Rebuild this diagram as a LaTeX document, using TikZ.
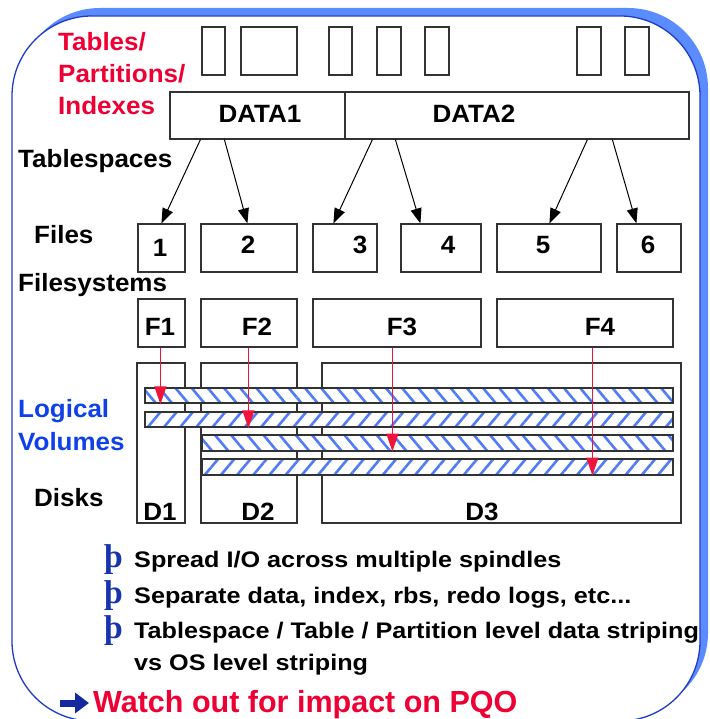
\documentclass[tikz,border=0pt]{standalone}
\usepackage{fontspec}
\setmainfont{Liberation Sans}
\newfontfamily\labf[FakeStretch=1.04]{Liberation Sans}
\newfontfamily\bulf[FakeStretch=1.12]{Liberation Sans}
\newfontfamily\plainf{Liberation Sans}
\newfontfamily\thornf{Liberation Serif}
\usetikzlibrary{arrows.meta,patterns.meta,fit}
\definecolor{labred}{RGB}{238,0,52}
\definecolor{labblue}{RGB}{16,64,232}
\definecolor{bulblue}{RGB}{24,52,172}
\definecolor{arrblue}{RGB}{20,40,160}
\definecolor{boxgray}{RGB}{50,50,50}
\definecolor{stripeblue}{RGB}{80,125,245}
\definecolor{redarrow}{RGB}{240,20,60}
\definecolor{framedark}{RGB}{30,60,200}
\definecolor{shadowblue}{RGB}{90,140,255}
\tikzset{
  box/.style={draw=boxgray, line width=1.2pt, inner sep=0pt},
  lab/.style={font=\labf\bfseries\fontsize{25pt}{30pt}\selectfont, inner sep=0pt, anchor=base west},
  inlab/.style={font=\labf\bfseries\fontsize{25pt}{30pt}\selectfont, inner sep=0pt, anchor=base},
  bul/.style={font=\bulf\bfseries\fontsize{22.5pt}{27pt}\selectfont, inner sep=0pt, anchor=base west},
  thorn/.style={font=\thornf\bfseries\fontsize{33pt}{36pt}\selectfont, text=bulblue, inner sep=0pt, anchor=base west},
  lvbarA/.style={draw=boxgray, line width=1.2pt, inner sep=0pt, preaction={fill=white},
    pattern={Lines[angle=-50,distance=12.4pt,line width=2.6pt]}, pattern color=stripeblue},
  lvbarB/.style={draw=boxgray, line width=1.2pt, inner sep=0pt, preaction={fill=white},
    pattern={Lines[angle=50,distance=12.4pt,line width=2.6pt]}, pattern color=stripeblue},
  blkarr/.style={-{Triangle[length=15pt,width=11pt]}, line width=1pt, black},
  redarr/.style={-{Triangle[length=18pt,width=12pt]}, line width=1.3pt, redarrow},
  bigarr/.style={-{Triangle[length=14pt,width=20pt]}, line width=7pt, arrblue, shorten >=4pt},
}
\begin{document}
\begin{tikzpicture}[x=1pt,y=-1pt]
\useasboundingbox (0,0) rectangle (709,719);
% frame
\fill[shadowblue, rounded corners=80pt] (20,8) rectangle (708,713);
\draw[framedark, fill=white, line width=1.3pt, rounded corners=80pt] (12,16) rectangle (700,721);
% left labels
\node[lab, text=labred] (lTables) at (58,51) {Tables/};
\node[lab, text=labred] (lPart) at (58,83) {Partitions/};
\node[lab, text=labred] (lIdx) at (58,115) {Indexes};
\node[lab] (lTs) at (18,168) {Tablespaces};
\node[lab] (lFiles) at (34,243) {Files};
\node[lab] (lFs) at (18,291) {Filesystems};
\node[lab, text=labblue] (lLog) at (18,417) {Logical};
\node[lab, text=labblue] (lVol) at (18,450) {Volumes};
\node[lab] (lDisks) at (34,506) {Disks};
% tables / partitions
\node[box, fit={(202,27)(225,75)}] (t1) {};
\node[box, fit={(241,27)(297,75)}] (t2) {};
\node[box, fit={(329,27)(352,75)}] (t3) {};
\node[box, fit={(377,27)(401,75)}] (t4) {};
\node[box, fit={(425,27)(449,75)}] (t5) {};
\node[box, fit={(577,27)(601,75)}] (t6) {};
\node[box, fit={(625,27)(649,75)}] (t7) {};
% tablespaces
\node[box, fit={(170,92)(345,139)}] (data1) {};
\node[box, fit={(345,92)(689,139)}] (data2) {};
\node[inlab] at (260,123) {DATA1};
\node[inlab] at (474,123) {DATA2};
% files
\node[box, fit={(138,224)(185,272)}] (f1) {};
\node[box, fit={(201,224)(297,272)}] (f2) {};
\node[box, fit={(313,224)(377,272)}] (f3) {};
\node[box, fit={(401,224)(481,272)}] (f4) {};
\node[box, fit={(497,224)(601,272)}] (f5) {};
\node[box, fit={(617,224)(681,272)}] (f6) {};
\node[inlab] at (160,256) {1};
\node[inlab] at (248,253) {2};
\node[inlab] at (360,253) {3};
\node[inlab] at (448,253) {4};
\node[inlab] at (543,253) {5};
\node[inlab] at (648,253) {6};
% filesystems
\node[box, fit={(138,299)(185,347)}] (fs1) {};
\node[box, fit={(201,299)(297,347)}] (fs2) {};
\node[box, fit={(313,299)(481,347)}] (fs3) {};
\node[box, fit={(497,299)(673,347)}] (fs4) {};
\node[inlab] at (160,335) {F1};
\node[inlab] at (257,335) {F2};
\node[inlab] at (402,335) {F3};
\node[inlab] at (600,335) {F4};
% disks
\node[box, fit={(137,363)(185,523)}] (d1) {};
\node[box, fit={(201,363)(297,523)}] (d2) {};
\node[box, fit={(322,363)(681,523)}] (d3) {};
\node[inlab] at (160,520) {D1};
\node[inlab] at (258,520) {D2};
\node[inlab] at (482,520) {D3};
% logical volumes
\node[lvbarA, fit={(145,388)(673,403)}] (lv1) {};
\node[lvbarB, fit={(145,412)(673,427)}] (lv2) {};
\node[lvbarA, fit={(202,435)(673,451)}] (lv3) {};
\node[lvbarB, fit={(202,459)(673,475)}] (lv4) {};
% black arrows tablespace -> files
\draw[blkarr] ([xshift=31pt]data1.south west) -- ([xshift=24pt]f1.north west);
\draw[blkarr] ([xshift=55pt]data1.south west) -- ([xshift=47pt]f2.north west);
\draw[blkarr] ([xshift=28pt]data2.south west) -- ([xshift=21pt]f3.north west);
\draw[blkarr] ([xshift=51pt]data2.south west) -- ([xshift=20pt]f4.north west);
\draw[blkarr] ([xshift=243pt]data2.south west) -- ([xshift=53pt]f5.north west);
\draw[blkarr] ([xshift=268pt]data2.south west) -- ([xshift=20pt]f6.north west);
% red arrows filesystems -> logical volumes
\draw[redarr] ([xshift=23pt]fs1.south west) -- ([xshift=23pt]fs1.south west |- lv1.south);
\draw[redarr] ([xshift=48pt]fs2.south west) -- ([xshift=48pt]fs2.south west |- lv2.south);
\draw[redarr] ([xshift=80pt]fs3.south west) -- ([xshift=80pt]fs3.south west |- lv3.south);
\draw[redarr] ([xshift=96pt]fs4.south west) -- ([xshift=96pt]fs4.south west |- lv4.south);
% bullets
\node[thorn] (p1) at (104,567) {þ};
\node[bul] (b1) at (134,567) {Spread I/O across multiple spindles};
\node[thorn] (p2) at (104,603) {þ};
\node[bul] (b2) at (134,603) {Separate data, index, rbs, redo logs, etc...};
\node[thorn] (p3) at (104,638) {þ};
\node[bul] (b3) at (134,638) {Tablespace / Table / Partition level data striping};
\node[bul] (b4) at (134,670) {vs OS level striping};
\node[inner sep=0pt, anchor=base west, text=labred, font=\plainf\bfseries\fontsize{30.5pt}{34pt}\selectfont] (watch) at (93,712) {Watch out for impact on PQO};
\coordinate (arrstart) at (60,703);
\draw[bigarr] (arrstart) -- (arrstart -| watch.west);
\end{tikzpicture}
\end{document}
